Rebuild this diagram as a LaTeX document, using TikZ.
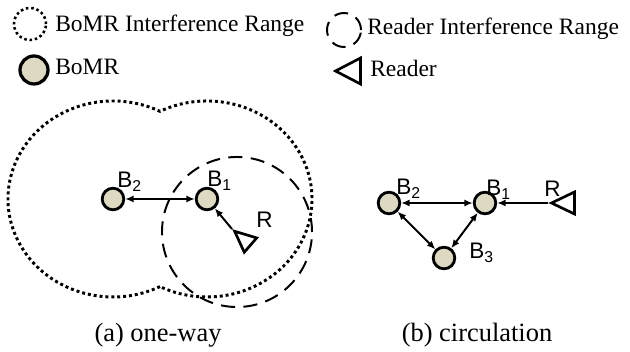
\documentclass[tikz,border=0pt]{standalone}
\usepackage{fontspec}
\setmainfont{Liberation Serif}
\setsansfont{Liberation Sans}
\usetikzlibrary{arrows.meta, positioning, shapes.geometric}

\definecolor{bomrfill}{RGB}{221,217,195}

\begin{document}
\begin{tikzpicture}[x=0.025cm, y=-0.025cm,
  bomr/.style={circle, draw, line width=2pt, fill=bomrfill,
               minimum size=0.54cm, inner sep=0pt},
  reader/.style={isosceles triangle, isosceles triangle stretches, draw,
                 line width=1.9pt, inner sep=0pt, anchor=apex},
  bomrrange/.style={draw, line width=2.1pt, dash pattern=on 2.1pt off 2.1pt},
  readerrange/.style={circle, draw, line width=1.4pt,
                      dash pattern=on 10pt off 6pt, inner sep=0pt},
  lbl/.style={font=\sffamily\fontsize{16}{19}\selectfont, anchor=base west, inner sep=0pt},
  legend/.style={font=\fontsize{16.7}{20}\selectfont, anchor=base west, inner sep=0pt},
  caption/.style={font=\fontsize{18.8}{22}\selectfont, anchor=base, inner sep=0pt},
  arr/.style={{Latex[length=6pt,width=5pt]}-{Latex[length=6pt,width=5pt]}, line width=1.4pt},
  arrin/.style={-{Latex[length=6pt,width=5pt]}, line width=1.4pt}
]
\useasboundingbox (0,0) rectangle (630,352);

% legend
\node[circle, bomrrange, line width=1.8pt, dash pattern=on 1.8pt off 2pt,
      minimum size=0.8cm, inner sep=0pt] (keyrange) at (30,24) {};
\node[legend] (keyrangetxt) at (55,32) {BoMR Interference Range};
\node[bomr, minimum size=0.7cm, line width=2.3pt] (keybomr) at (34,70) {};
\node[legend] (keybomrtxt) at (55,75) {BoMR};
\node[readerrange, minimum size=0.85cm] (keyrdrange) at (344,30) {};
\node[legend] (keyrdrangetxt) at (367,35) {Reader Interference Range};
\node[reader, minimum width=0.65cm, minimum height=0.625cm, rotate=180] (keyrd) at (332,71) {};
\node[legend] (keyrdtxt) at (370,77) {Reader};

% (a) one-way
\draw[bomrrange] (160,286.6)
  arc[start angle=63.4, end angle=296.6, x radius=105, y radius=98]
  arc[start angle=-116.6, end angle=116.6, x radius=105, y radius=98] -- cycle;
\node[readerrange, minimum size=3.75cm] (rrange) at (237,232) {};

\node[bomr] (b2a) at (113,199) {};
\node[bomr] (b1a) at (207,199) {};
\node[reader, minimum width=0.475cm, minimum height=0.525cm, rotate=139] (ra) at (232,229) {};
\node[lbl] (b2alab) at (117,188) {B\textsubscript{2}};
\node[lbl] (b1alab) at (207,187) {B\textsubscript{1}};
\node[lbl] (ralab) at (256,228) {R};

\draw[arr] (b2a) -- (b1a);
\draw[arrin] (ra.apex) -- (b1a);

% (b) circulation
\node[bomr] (b2b) at (389,203) {};
\node[bomr] (b1b) at (485,203) {};
\node[bomr] (b3b) at (444,258) {};
\node[reader, minimum width=0.55cm, minimum height=0.575cm, rotate=180] (rb) at (548,203) {};
\node[lbl] (b2blab) at (396,195) {B\textsubscript{2}};
\node[lbl] (b1blab) at (486,196) {B\textsubscript{1}};
\node[lbl] (rblab) at (544,197) {R};
\node[lbl] (b3blab) at (469,259) {B\textsubscript{3}};

\draw[arr] (b2b) -- (b1b);
\draw[arr] (b2b) -- (b3b);
\draw[arr] (b1b) -- (b3b);
\draw[arrin] (rb.apex) -- (b1b);

\node[caption] (capa) at (158,342) {(a) one-way};
\node[caption] (capb) at (477,342) {(b) circulation};
\end{tikzpicture}
\end{document}
